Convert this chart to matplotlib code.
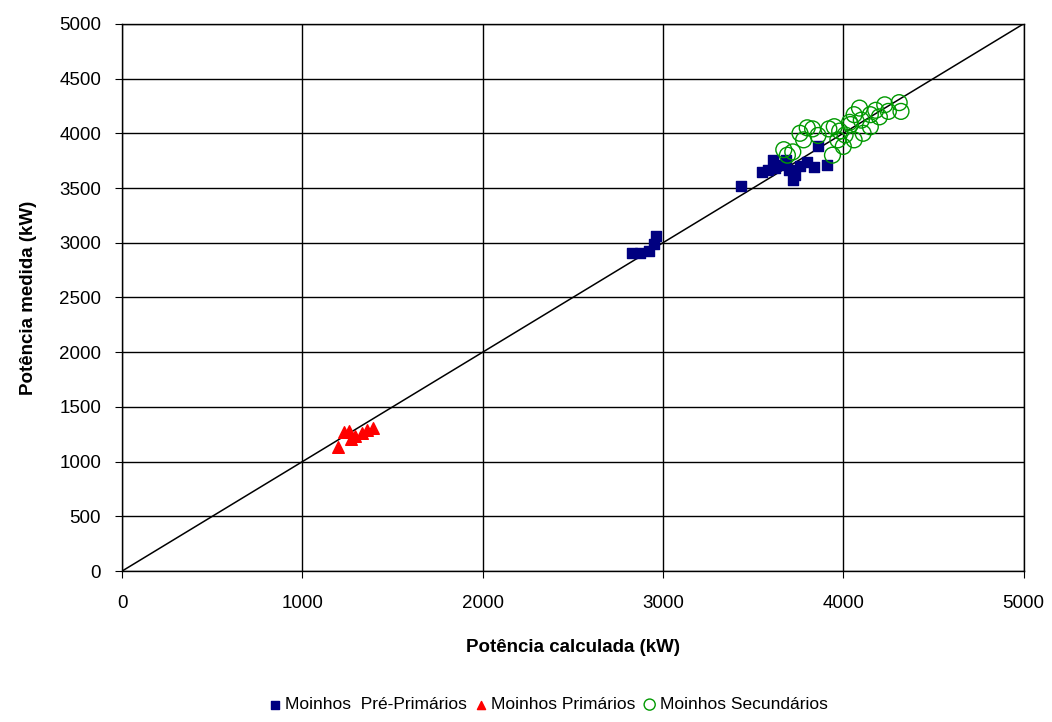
import matplotlib.pyplot as plt

plt.rcParams['font.family'] = ['Liberation Sans', 'DejaVu Sans']

# Moinhos Pre-Primarios (kW)
pre_calc = [2830, 2870, 2920, 2950, 2960, 3430, 3550, 3580, 3620, 3660, 3680,
            3700, 3730, 3720, 3800, 3860, 3840, 3910, 3610, 3760]
pre_med = [2910, 2910, 2920, 2990, 3060, 3520, 3650, 3665, 3680, 3710, 3760,
           3665, 3620, 3575, 3740, 3880, 3690, 3710, 3760, 3700]

# Moinhos Primarios
pri_calc = [1200, 1230, 1260, 1270, 1290, 1330, 1360, 1390]
pri_med = [1130, 1270, 1280, 1210, 1230, 1260, 1290, 1310]

# Moinhos Secundarios
sec_calc = [3670, 3690, 3720, 3760, 3800, 3830, 3920, 3950, 3970, 4010, 4035,
            4060, 4090, 4100, 4150, 4180, 4230, 4310, 4320, 4200, 4150, 4060,
            4000, 3940, 3980, 4040, 4110, 3860, 3780, 4250]
sec_med = [3850, 3800, 3830, 4000, 4050, 4040, 4040, 4060, 3940, 3985, 4100,
           4170, 4230, 4120, 4170, 4210, 4260, 4280, 4200, 4150, 4060, 3940,
           3880, 3800, 4020, 4080, 4000, 3980, 3940, 4200]

fig = plt.figure(figsize=(10.52, 7.22), dpi=100)
ax = fig.add_axes([0.116, 0.209, 0.857, 0.758])

ax.plot([0, 5000], [0, 5000], color='black', linewidth=1.1, zorder=2)
ax.scatter(pre_calc, pre_med, marker='s', s=60, color='#000080',
           label='Moinhos  Pré-Primários', zorder=3)
ax.scatter(pri_calc, pri_med, marker='^', s=70, color='#ff0000',
           label='Moinhos Primários', zorder=3)
ax.scatter(sec_calc, sec_med, marker='o', s=130, facecolors='none',
           edgecolors='#009900', linewidths=1.0,
           label='Moinhos Secundários', zorder=4)

ax.set_xlim(0, 5000)
ax.set_ylim(0, 5000)
ax.set_xticks(range(0, 5001, 1000))
ax.set_yticks(range(0, 5001, 500))
ax.grid(True, color='black', linewidth=1.0)
ax.set_axisbelow(True)
ax.tick_params(labelsize=13.5, length=5, color='black')
ax.tick_params(axis='x', pad=12)
ax.tick_params(axis='y', pad=10)
for s in ax.spines.values():
    s.set_color('black')
    s.set_linewidth(1.0)

ax.set_xlabel('Potência calculada (kW)', fontsize=13.5, fontweight='bold', labelpad=20)
ax.set_ylabel('Potência medida (kW)', fontsize=13.5, fontweight='bold', labelpad=16)

fig.legend(loc='lower center', bbox_to_anchor=(0.52, -0.008), ncol=3,
           frameon=False, fontsize=12.5, handletextpad=0.1, columnspacing=0.3,
           handlelength=1.0, markerscale=0.7)

fig.savefig('out.png', dpi=100)
